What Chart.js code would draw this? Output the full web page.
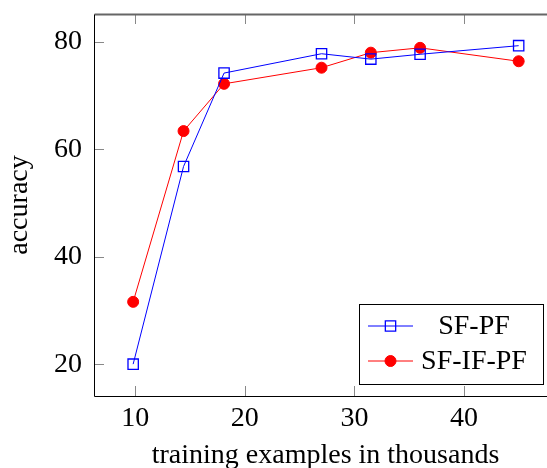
<!DOCTYPE html>
<html>
<head>
<meta charset="utf-8">
<script src="https://cdn.jsdelivr.net/npm/chart.js@4"></script>
<style>
  html, body { margin: 0; padding: 0; background: #fff; overflow: hidden; }
  #wrap { width: 590px; height: 468px; }
</style>
</head>
<body>
<div id="wrap"><canvas id="accChart"></canvas></div>
<script>
const examples = [9.8, 14.4, 18.1, 27, 31.5, 36, 45];
const sfPf = [20, 56.8, 74.2, 77.8, 76.8, 77.7, 79.3];
const sfIfPf = [31.6, 63.4, 72.2, 75.2, 78.0, 78.9, 76.4];
const seriesNames = ['SF-PF', 'SF-IF-PF'];
const xTicks = [10, 20, 30, 40];
const yTicks = [20, 40, 60, 80];

const serif = "'Liberation Serif', 'Times New Roman', serif";

function toPoints(ys) {
  return examples.map((x, i) => ({ x: x, y: ys[i] }));
}

// frame + inward tick marks like pgfplots
const frameTicks = {
  id: 'frameTicks',
  afterDatasetsDraw(chart) {
    const { ctx, chartArea: a, scales } = chart;
    ctx.save();
    ctx.strokeStyle = '#888';
    ctx.lineWidth = 1;
    ctx.beginPath();
    xTicks.forEach(v => {
      const px = Math.round(scales.x.getPixelForValue(v)) + 0.5;
      ctx.moveTo(px, a.bottom); ctx.lineTo(px, a.bottom - 10);
      ctx.moveTo(px, a.top); ctx.lineTo(px, a.top + 10);
    });
    yTicks.forEach(v => {
      const py = Math.round(scales.y.getPixelForValue(v)) + 0.5;
      ctx.moveTo(a.left, py); ctx.lineTo(a.left + 10, py);
      ctx.moveTo(a.right, py); ctx.lineTo(a.right - 10, py);
    });
    ctx.stroke();
    const l = Math.round(a.left) + 0.5, b = Math.round(a.bottom) + 0.5;
    const t = Math.round(a.top) + 0.5, r = Math.round(a.right) + 0.5;
    ctx.strokeStyle = '#666';
    ctx.lineWidth = 2;
    ctx.beginPath();
    ctx.moveTo(l, t); ctx.lineTo(r, t);
    ctx.stroke();
    ctx.strokeStyle = '#000';
    ctx.lineWidth = 1;
    ctx.beginPath();
    ctx.moveTo(l, t); ctx.lineTo(l, b); ctx.lineTo(r, b); ctx.lineTo(r, t);
    ctx.stroke();
    ctx.restore();
  }
};

// legend box in the lower right corner of the plot
const boxLegend = {
  id: 'boxLegend',
  afterDraw(chart) {
    const { ctx, chartArea: a } = chart;
    const w = 184, h = 80;
    const left = a.right - 14 - w, top = a.bottom - 12 - h;
    ctx.save();
    ctx.fillStyle = '#fff';
    ctx.fillRect(left, top, w, h);
    ctx.strokeStyle = '#000';
    ctx.lineWidth = 1;
    ctx.strokeRect(Math.round(left) + 0.5, Math.round(top) + 0.5, w, h);
    chart.data.datasets.forEach((ds, i) => {
      const cy = top + 22 + i * 35;
      ctx.strokeStyle = ds.borderColor;
      ctx.lineWidth = 1;
      ctx.beginPath();
      ctx.moveTo(left + 9, cy); ctx.lineTo(left + 54, cy);
      ctx.stroke();
      ctx.fillStyle = ds.pointBackgroundColor;
      ctx.strokeStyle = ds.pointBorderColor;
      ctx.lineWidth = ds.pointBorderWidth;
      ctx.beginPath();
      if (ds.pointStyle === 'rect') {
        const s = Math.SQRT1_2 * ds.pointRadius;
        ctx.rect(left + 31.5 - s, cy - s, 2 * s, 2 * s);
      } else {
        ctx.arc(left + 31.5, cy, ds.pointRadius, 0, Math.PI * 2);
      }
      ctx.fill();
      ctx.stroke();
      ctx.fillStyle = '#000';
      ctx.font = '28px ' + serif;
      ctx.textAlign = 'center';
      ctx.textBaseline = 'middle';
      ctx.fillText(ds.label, left + 115, cy + 1);
    });
    ctx.restore();
  }
};

window.addEventListener('load', () => {
  const ctxAcc = document.getElementById('accChart').getContext('2d');
  new Chart(ctxAcc, {
    type: 'line',
    data: {
      datasets: [{
        label: seriesNames[0],
        data: toPoints(sfPf),
        borderColor: '#0000ff',
        borderWidth: 1,
        pointStyle: 'rect',
        pointRadius: 7.3,
        pointBorderWidth: 1.3,
        pointBackgroundColor: 'rgba(0,0,0,0)',
        pointBorderColor: '#0000ff',
        tension: 0
      }, {
        label: seriesNames[1],
        data: toPoints(sfIfPf),
        borderColor: '#ff0000',
        borderWidth: 1,
        pointStyle: 'circle',
        pointRadius: 5.5,
        pointBorderWidth: 1,
        pointBackgroundColor: '#ff0000',
        pointBorderColor: '#ff0000',
        tension: 0
      }]
    },
    options: {
      responsive: true,
      maintainAspectRatio: false,
      animation: false,
      layout: { padding: { top: 14, right: 33, left: 0, bottom: 0 } },
      plugins: {
        legend: { display: false },
        tooltip: { enabled: false }
      },
      scales: {
        x: {
          type: 'linear',
          min: 6.225,
          max: 48.5,
          grid: { display: false, drawTicks: false },
          border: { display: false },
          ticks: {
            stepSize: 10,
            includeBounds: false,
            padding: 6,
            color: '#000',
            font: { family: serif, size: 28 }
          },
          title: {
            display: true,
            text: 'training examples in thousands',
            color: '#000',
            font: { family: serif, size: 28, lineHeight: 0.85 },
            padding: { top: 0, bottom: 0 }
          },
          afterFit: s => {
            s.height = 72;
            s.paddingLeft = 0;
            s.paddingRight = 0;
          }
        },
        y: {
          min: 14.07,
          max: 85.2,
          grid: { display: false, drawTicks: false },
          border: { display: false },
          ticks: {
            stepSize: 20,
            includeBounds: false,
            padding: 12,
            color: '#000',
            font: { family: serif, size: 28 }
          },
          title: {
            display: true,
            text: 'accuracy',
            color: '#000',
            font: { family: serif, size: 28, lineHeight: 1.2 },
            padding: { top: 3, bottom: 0 }
          },
          afterFit: s => {
            s.width = 94;
            s.paddingTop = 0;
            s.paddingBottom = 0;
          }
        }
      }
    },
    plugins: [frameTicks, boxLegend]
  });
});
</script>
</body>
</html>
